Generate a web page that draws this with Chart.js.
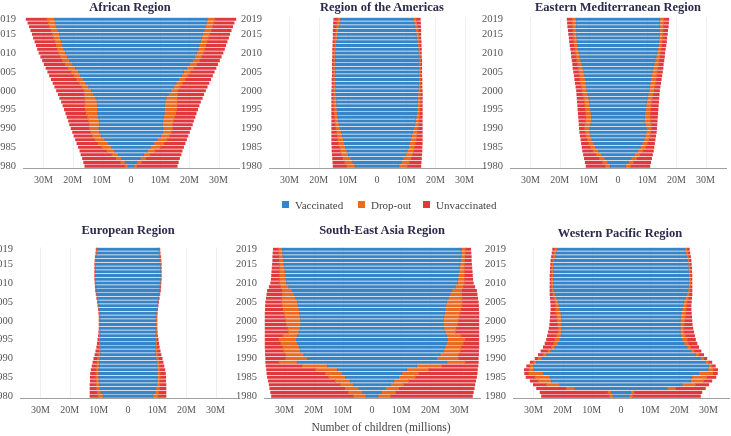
<!DOCTYPE html>
<html><head><meta charset="utf-8">
<script src="https://cdn.jsdelivr.net/npm/chart.js@4/dist/chart.umd.min.js"></script>
<style>
html,body{margin:0;padding:0;background:#fff;width:731px;height:436px;overflow:hidden;position:relative;font-family:'Liberation Serif','DejaVu Serif',serif;}
canvas{position:absolute;}
.title{position:absolute;font-weight:bold;font-size:12.5px;color:#2b2a4c;white-space:nowrap;transform:translate(-50%,-50%);}
.lg{position:absolute;font-size:11px;color:#444;white-space:nowrap;transform:translateY(-50%);}
.sq{position:absolute;width:7px;height:7px;}
.axt{position:absolute;font-size:11.5px;color:#444;white-space:nowrap;transform:translate(-50%,-50%);}
</style></head><body>
<script>
// ---- categories & ticks ----
const years = [1980,1981,1982,1983,1984,1985,1986,1987,1988,1989,1990,1991,1992,1993,1994,1995,1996,1997,1998,1999,
               2000,2001,2002,2003,2004,2005,2006,2007,2008,2009,2010,2011,2012,2013,2014,2015,2016,2017,2018,2019];
const yearTicks = [1980,1985,1990,1995,2000,2005,2010,2015,2019];
const xTicks = [-30,-20,-10,0,10,20,30];
const seriesNames = ['Vaccinated','Drop-out','Unvaccinated'];
const seriesColors = ['#3784c6','#ec6a1f','#e0383d'];

// ---- values (millions of children), 1980..2019 ----
const afrVac = [1.0,2.0,3.2,4.3,5.5,6.6,7.8,9.0,10.2,10.8,11.0,10.8,10.9,11.2,11.4,11.4,11.5,11.6,12.0,12.8,
                13.6,14.5,15.4,16.4,17.3,18.0,19.0,20.0,21.0,21.8,22.4,23.0,23.4,23.8,24.2,24.5,25.0,25.4,25.8,26.1];
const afrDrop = [1.0,1.5,1.8,2.2,2.7,3.4,3.4,3.3,3.0,3.0,3.2,3.4,3.6,3.7,3.9,4.2,4.3,4.2,3.8,3.1,
                 2.4,2.3,2.2,2.1,2.2,2.4,2.5,2.5,2.4,2.4,2.4,2.2,2.1,2.2,2.3,2.4,2.4,2.5,2.5,2.6];
const afrUnvac = [13.8,12.7,11.6,10.6,9.3,8.0,7.3,6.7,6.3,6.2,6.3,6.8,6.9,7.0,7.0,7.2,7.5,8.0,8.6,9.0,
                  9.5,9.3,9.1,8.8,8.4,8.1,7.6,7.2,6.9,6.7,6.7,6.8,6.9,6.9,6.9,6.9,6.9,6.9,7.0,7.2];

const amrVac = [7.5,8.3,9.0,9.8,10.3,10.8,11.1,11.4,11.8,12.2,12.5,12.9,13.2,13.4,13.6,13.7,13.8,13.9,14.0,14.0,
                14.1,14.2,14.3,14.3,14.3,14.3,14.3,14.3,14.3,14.3,14.2,14.1,14.0,13.8,13.6,13.4,13.2,13.0,12.7,12.4];
const amrDrop = [2.9,2.7,2.6,2.3,2.2,2.0,2.0,2.0,1.8,1.6,1.5,1.3,1.2,1.1,1.0,1.0,1.0,0.9,0.8,0.8,
                 0.7,0.6,0.5,0.5,0.5,0.5,0.5,0.5,0.5,0.4,0.5,0.5,0.5,0.6,0.7,0.8,0.8,0.8,0.9,1.0];
const amrUnvac = [4.6,4.1,3.6,3.2,2.9,2.6,2.4,2.1,1.9,1.7,1.5,1.3,1.1,1.0,0.9,0.8,0.7,0.7,0.7,0.7,
                  0.7,0.6,0.6,0.6,0.5,0.5,0.5,0.5,0.5,0.5,0.5,0.6,0.6,0.7,0.7,0.8,1.0,1.1,1.3,1.4];

const emrVac = [2.6,3.5,4.5,5.5,6.6,7.6,8.3,8.9,9.3,9.6,9.7,9.4,9.0,9.1,9.2,9.4,9.6,9.8,10.0,10.3,
                10.6,10.8,11.0,11.2,11.4,11.7,12.0,12.3,12.7,13.0,13.3,13.6,13.8,14.0,14.1,14.2,14.2,14.3,14.3,14.3];
const emrDrop = [1.7,1.7,1.8,1.9,1.9,1.8,1.7,1.6,1.6,1.6,1.7,1.9,2.1,1.9,1.8,1.7,1.7,1.7,1.7,1.7,
                 1.7,1.7,1.8,1.8,1.8,1.7,1.6,1.5,1.4,1.3,1.2,1.1,1.1,1.1,1.1,1.1,1.2,1.2,1.3,1.4];
const emrUnvac = [6.6,6.0,5.2,4.4,3.6,2.9,2.5,2.2,2.0,1.9,1.8,2.0,2.3,2.5,2.6,2.6,2.5,2.4,2.3,2.1,
                  1.9,1.9,1.8,1.8,1.8,1.8,1.8,1.7,1.6,1.6,1.5,1.5,1.5,1.5,1.5,1.6,1.6,1.7,1.7,1.7];

const eurVac = [8.5,9.2,9.5,9.8,9.9,10.0,10.0,10.0,9.9,9.8,9.6,9.5,9.4,9.4,9.5,9.5,9.5,9.5,9.5,9.5,
                9.5,9.5,9.6,9.8,10.0,10.2,10.4,10.6,10.8,10.9,11.0,11.1,11.1,11.1,11.1,11.0,10.9,10.8,10.6,10.5];
const eurDrop = [1.8,1.3,1.2,1.1,1.0,1.0,1.0,0.9,0.8,0.8,0.8,0.6,0.5,0.4,0.3,0.3,0.2,0.2,0.2,0.2,
                 0.2,0.2,0.2,0.1,0.1,0.1,0.1,0.1,0.1,0.1,0.1,0.1,0.1,0.1,0.1,0.2,0.2,0.2,0.2,0.2];
const eurUnvac = [2.7,2.5,2.3,2.1,2.0,1.9,1.8,1.7,1.6,1.4,1.3,1.2,1.1,0.9,0.7,0.5,0.4,0.3,0.2,0.2,
                  0.2,0.2,0.2,0.2,0.2,0.2,0.2,0.2,0.2,0.2,0.2,0.2,0.2,0.2,0.2,0.2,0.2,0.2,0.2,0.2];

const searVac = [2.0,3.2,4.5,6.3,7.4,9.1,10.2,11.9,15.3,25.6,22.2,23.3,24.5,25.0,25.5,25.9,25.6,25.0,24.6,24.4,
                 24.4,24.6,24.8,25.0,25.3,25.6,26.1,26.7,27.3,28.5,29.3,29.4,29.5,29.7,29.9,30.1,30.3,30.5,30.6,30.7];
const searDrop = [4.3,4.8,4.6,4.5,5.1,5.7,5.7,7.4,8.6,6.2,7.3,6.2,5.7,5.5,5.7,5.9,4.9,3.6,4.2,4.8,
                  5.1,5.2,5.3,5.4,5.4,5.3,4.7,4.0,3.4,2.7,2.3,2.2,2.1,1.9,1.7,1.5,1.4,1.3,1.3,1.3];
const searUnvac = [28.1,26.7,25.9,24.4,23.0,21.0,20.1,16.8,12.4,4.6,6.9,7.0,6.3,6.1,5.4,4.8,6.1,8.0,7.8,7.4,
                   7.1,6.8,6.5,6.1,5.8,5.5,5.4,5.3,5.1,4.0,3.1,2.9,2.8,2.7,2.6,2.5,2.3,2.2,2.0,1.8];

const wprVac = [2.7,3.3,15.8,20.9,23.8,24.3,26.6,29.8,30.0,28.9,27.2,25.5,24.0,22.6,21.6,20.9,20.5,20.3,20.3,20.3,
                20.3,20.4,20.6,20.9,21.2,21.5,22.0,22.5,22.9,23.1,23.2,23.2,23.2,23.1,23.1,23.0,22.8,22.5,22.2,21.8];
const wprDrop = [1.2,1.1,2.8,4.6,4.5,5.1,4.9,1.7,1.1,1.1,1.1,1.1,1.0,1.2,1.4,1.7,1.5,1.2,1.2,1.3,
                 1.5,1.6,1.6,1.4,1.2,1.1,1.0,0.8,0.7,0.6,0.6,0.6,0.5,0.6,0.5,0.5,0.5,0.6,0.7,0.8];
const wprUnvac = [23.3,23.3,10.3,4.5,2.8,3.1,1.5,1.6,1.2,1.1,1.1,1.7,2.4,2.8,3.0,2.9,3.2,3.4,3.1,2.8,
                  2.5,2.2,1.9,1.7,1.6,1.5,1.2,1.0,0.7,0.6,0.5,0.5,0.6,0.5,0.6,0.6,0.7,0.7,0.7,0.8];

const panels = [
  {title:'African Region',               s:[afrVac,afrDrop,afrUnvac],    left:23,  top:17,  tx:130, ty:7},
  {title:'Region of the Americas',       s:[amrVac,amrDrop,amrUnvac],    left:269, top:17,  tx:382, ty:7},
  {title:'Eastern Mediterranean Region', s:[emrVac,emrDrop,emrUnvac],    left:510, top:17,  tx:618, ty:7},
  {title:'European Region',              s:[eurVac,eurDrop,eurUnvac],    left:20,  top:247, tx:128, ty:230},
  {title:'South-East Asia Region',       s:[searVac,searDrop,searUnvac], left:264, top:247, tx:382, ty:230},
  {title:'Western Pacific Region',       s:[wprVac,wprDrop,wprUnvac],    left:513, top:247, tx:620, ty:233}
];
const PW = 216, PH = 151, XMAX = 37;

Chart.defaults.font.family = "'Liberation Serif','DejaVu Serif',serif";

// faint vertical guide lines at the non-zero x ticks, under the bars
const faintGrid = {
  id: 'faintGrid',
  beforeDatasetsDraw(chart) {
    const {ctx, chartArea: ca, scales: {x}} = chart;
    ctx.save();
    ctx.strokeStyle = '#efefef';
    ctx.lineWidth = 1;
    xTicks.forEach(v => {
      if (v === 0) return;
      const px = Math.round(x.getPixelForValue(v)) + 0.5;
      ctx.beginPath(); ctx.moveTo(px, ca.top); ctx.lineTo(px, ca.bottom); ctx.stroke();
    });
    ctx.restore();
  }
};

function makeConfig(p){
  const [vac, drop, unvac] = p.s;
  // mirrored pyramid: vaccinated centred on 0, drop-out and unvaccinated on both outer sides
  const ds = [
    {label: seriesNames[0], data: vac.map(v => [-v, v]), backgroundColor: seriesColors[0]},
    {label: seriesNames[1], data: vac.map((v, i) => [v, v + drop[i]]), backgroundColor: seriesColors[1]},
    {label: seriesNames[1], data: vac.map((v, i) => [-v - drop[i], -v]), backgroundColor: seriesColors[1]},
    {label: seriesNames[2], data: vac.map((v, i) => [v + drop[i], v + drop[i] + unvac[i]]), backgroundColor: seriesColors[2]},
    {label: seriesNames[2], data: vac.map((v, i) => [-v - drop[i] - unvac[i], -v - drop[i]]), backgroundColor: seriesColors[2]}
  ];
  return {
    type: 'bar',
    data: {labels: years, datasets: ds},
    plugins: [faintGrid],
    options: {
      indexAxis: 'y', responsive: false, maintainAspectRatio: false, animation: false, events: [],
      layout: {padding: {top: 6, right: 6, left: 0, bottom: 0}},
      plugins: {legend: {display: false}, tooltip: {enabled: false}},
      datasets: {bar: {barPercentage: 0.6, categoryPercentage: 1, borderWidth: 0, grouped: false, borderSkipped: false, inflateAmount: 0.4}},
      scales: {
        x: {
          min: -XMAX, max: XMAX,
          afterBuildTicks: s => { s.ticks = xTicks.map(v => ({value: v})); },
          ticks: {callback: v => v === 0 ? '0' : Math.abs(v) + 'M', color: '#555', font: {size: 10}, padding: 6, maxRotation: 0, autoSkip: false},
          grid: {display: false, drawTicks: false},
          border: {display: true, color: '#a0a0a0'},
          afterFit: s => { s.height = 22; }
        },
        y: {
          reverse: true,
          ticks: {autoSkip: false, callback: v => yearTicks.includes(years[v]) ? String(years[v]) : '', color: '#555', font: {size: 10.5}, padding: 7},
          grid: {display: false, drawTicks: false},
          border: {display: false},
          afterFit: s => { s.width = 40; }
        }
      }
    }
  };
}

panels.forEach(p => {
  let w = 262, h = 179;
  let cv = document.createElement('canvas');
  cv.width = w; cv.height = h; cv.style.width = w + 'px'; cv.style.height = h + 'px';
  document.body.appendChild(cv);
  let ch = new Chart(cv, makeConfig(p));
  let ca = ch.chartArea;
  const w2 = w + (PW - (ca.right - ca.left));
  const h2 = h + (PH - (ca.bottom - ca.top));
  ch.destroy(); cv.remove();
  cv = document.createElement('canvas');
  cv.width = w2; cv.height = h2; cv.style.width = w2 + 'px'; cv.style.height = h2 + 'px';
  document.body.appendChild(cv);
  ch = new Chart(cv, makeConfig(p));
  ca = ch.chartArea;
  cv.style.left = (p.left - ca.left) + 'px';
  cv.style.top = (p.top - ca.top) + 'px';

  const t = document.createElement('div');
  t.className = 'title'; t.textContent = p.title;
  t.style.left = p.tx + 'px'; t.style.top = p.ty + 'px';
  document.body.appendChild(t);
});

// legend
const legendPos = [[282, 295], [358, 371], [423, 436]];
seriesNames.forEach((n, k) => {
  const sq = document.createElement('div');
  sq.className = 'sq'; sq.style.background = seriesColors[k];
  sq.style.left = legendPos[k][0] + 'px'; sq.style.top = '201px';
  document.body.appendChild(sq);
  const tx = document.createElement('div');
  tx.className = 'lg'; tx.textContent = n;
  tx.style.left = legendPos[k][1] + 'px'; tx.style.top = '205px';
  document.body.appendChild(tx);
});
const at = document.createElement('div');
at.className = 'axt'; at.textContent = 'Number of children (millions)';
at.style.left = '381px'; at.style.top = '427px';
document.body.appendChild(at);
</script>
</body></html>
